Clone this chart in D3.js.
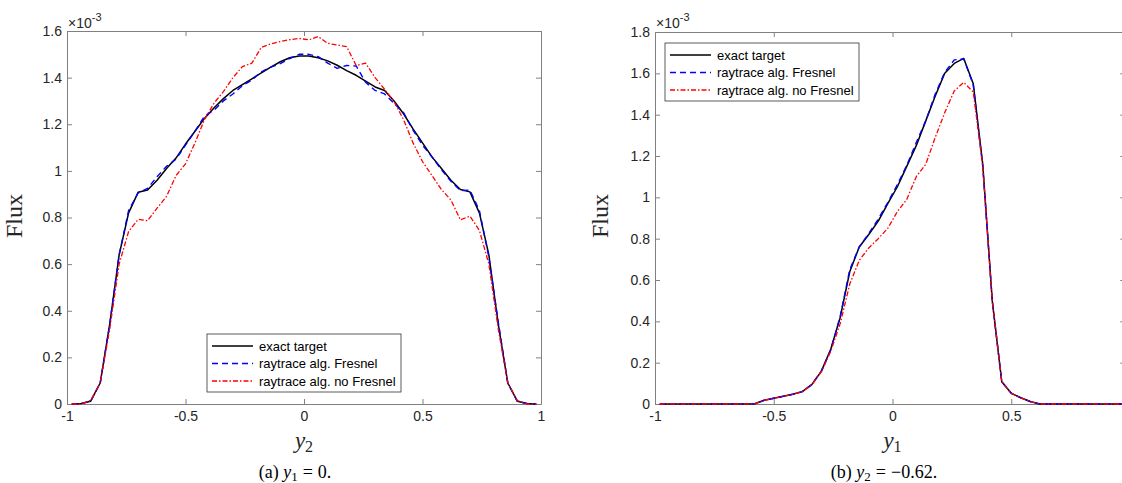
<!DOCTYPE html>
<html>
<head>
<meta charset="utf-8">
<script src="https://cdn.jsdelivr.net/npm/d3@7"></script>
<style>
  body { margin: 0; background: #fff; }
  svg { display: block; }
  .tick text { font-family: "Liberation Sans", Arial, sans-serif; font-size: 14px; fill: #262626; }
  .tick line, .domain { stroke: #808080; }
</style>
</head>
<body>
<script>
// sample positions (shared by both panels)
var gridPos = [-0.98, -0.94, -0.90, -0.86, -0.82, -0.78, -0.74, -0.70, -0.66, -0.62,
               -0.58, -0.54, -0.50, -0.46, -0.42, -0.38, -0.34, -0.30, -0.26, -0.22,
               -0.18, -0.14, -0.10, -0.06, -0.02, 0.02, 0.06, 0.10, 0.14, 0.18,
               0.22, 0.26, 0.30, 0.34, 0.38, 0.42, 0.46, 0.50, 0.54, 0.58,
               0.62, 0.66, 0.70, 0.74, 0.78, 0.82, 0.86, 0.90, 0.94, 0.98];

// (a) y1 = 0, flux in units of 1e-3
var exactA = [0, 0.002, 0.012, 0.09, 0.34, 0.64, 0.82, 0.908, 0.918, 0.96,
              1.01, 1.055, 1.115, 1.17, 1.225, 1.27, 1.31, 1.345, 1.37, 1.395,
              1.42, 1.445, 1.468, 1.485, 1.493, 1.493, 1.485, 1.472, 1.453, 1.43,
              1.41, 1.385, 1.36, 1.345, 1.30, 1.245, 1.18, 1.12, 1.06, 1.01,
              0.96, 0.92, 0.91, 0.82, 0.64, 0.34, 0.09, 0.012, 0.002, 0];
var fresnelA = [0, 0.002, 0.012, 0.09, 0.34, 0.64, 0.83, 0.905, 0.925, 0.975,
                1.02, 1.05, 1.11, 1.17, 1.235, 1.26, 1.30, 1.33, 1.365, 1.39,
                1.425, 1.445, 1.46, 1.482, 1.50, 1.50, 1.49, 1.462, 1.44, 1.452,
                1.45, 1.38, 1.345, 1.33, 1.29, 1.25, 1.175, 1.11, 1.06, 1.005,
                0.955, 0.915, 0.918, 0.83, 0.63, 0.35, 0.09, 0.012, 0.002, 0];
var noFresnelA = [0, 0, 0.015, 0.09, 0.32, 0.60, 0.74, 0.792, 0.786, 0.84,
                  0.89, 0.98, 1.03, 1.12, 1.22, 1.29, 1.34, 1.40, 1.447, 1.462,
                  1.53, 1.545, 1.555, 1.563, 1.568, 1.562, 1.576, 1.547, 1.54, 1.533,
                  1.452, 1.462, 1.40, 1.35, 1.297, 1.22, 1.12, 1.04, 0.98, 0.92,
                  0.875, 0.79, 0.806, 0.745, 0.60, 0.32, 0.09, 0.015, 0, 0];

// (b) y2 = -0.62
var exactB = [0, 0, 0, 0, 0, 0, 0, 0, 0, 0,
              0.001, 0.018, 0.028, 0.037, 0.047, 0.06, 0.094, 0.158, 0.265, 0.42,
              0.64, 0.76, 0.82, 0.885, 0.97, 1.05, 1.15, 1.25, 1.37, 1.49,
              1.60, 1.648, 1.672, 1.55, 1.16, 0.50, 0.108, 0.052, 0.03, 0.012,
              0, 0, 0, 0, 0, 0, 0, 0, 0, 0];
var fresnelB = [0, 0, 0, 0, 0, 0, 0, 0, 0, 0,
                0.001, 0.018, 0.028, 0.037, 0.047, 0.06, 0.094, 0.158, 0.262, 0.425,
                0.65, 0.76, 0.825, 0.895, 0.975, 1.06, 1.155, 1.265, 1.37, 1.50,
                1.605, 1.665, 1.67, 1.545, 1.15, 0.50, 0.108, 0.052, 0.03, 0.012,
                0, 0, 0, 0, 0, 0, 0, 0, 0, 0];
var noFresnelB = [0, 0, 0, 0, 0, 0, 0, 0, 0, 0,
                  0.001, 0.018, 0.028, 0.037, 0.047, 0.06, 0.092, 0.155, 0.255, 0.39,
                  0.58, 0.695, 0.755, 0.80, 0.85, 0.93, 0.99, 1.10, 1.16, 1.29,
                  1.41, 1.515, 1.556, 1.51, 1.15, 0.50, 0.108, 0.052, 0.03, 0.012,
                  0, 0, 0, 0, 0, 0, 0, 0, 0, 0];

var seriesNames = ["exact target", "raytrace alg. Fresnel", "raytrace alg. no Fresnel"];
var xTicksA = [-1, -0.5, 0, 0.5, 1];
var yTicksA = [0, 0.2, 0.4, 0.6, 0.8, 1, 1.2, 1.4, 1.6];
var xTicksB = [-1, -0.5, 0, 0.5];
var yTicksB = [0, 0.2, 0.4, 0.6, 0.8, 1, 1.2, 1.4, 1.6, 1.8];

var styles = [
  {color: "#000000", dash: null, width: 1.5},
  {color: "#0000ff", dash: "6,4", width: 1.4},
  {color: "#ff0000", dash: "5,2,1.5,2", width: 1.3}
];

var svg = d3.select("body").append("svg")
    .attr("width", 1122)
    .attr("height", 483);

var fmt = function(d) { return String(+d.toFixed(2)); };

function drawPanel(p) {
  var x = d3.scaleLinear().domain(p.xDomain).range([p.left, p.right]);
  var y = d3.scaleLinear().domain(p.yDomain).range([p.bottom, p.top]);
  var g = svg.append("g");

  g.append("g").attr("transform", "translate(0," + p.bottom + ")")
    .call(d3.axisBottom(x).tickValues(p.xTicks).tickFormat(fmt).tickSize(-5).tickSizeOuter(0).tickPadding(7));
  g.append("g").attr("transform", "translate(0," + p.top + ")")
    .call(d3.axisTop(x).tickValues(p.xTicks).tickFormat("").tickSize(-5).tickSizeOuter(0));
  g.append("g").attr("transform", "translate(" + p.left + ",0)")
    .call(d3.axisLeft(y).tickValues(p.yTicks).tickFormat(fmt).tickSize(-5).tickSizeOuter(0).tickPadding(5));
  g.append("g").attr("transform", "translate(" + p.right + ",0)")
    .call(d3.axisRight(y).tickValues(p.yTicks).tickFormat("").tickSize(-5).tickSizeOuter(0));

  var line = d3.line()
      .x(function(d, i) { return x(gridPos[i]); })
      .y(function(d) { return y(d); });

  p.series.forEach(function(s, k) {
    g.append("path")
      .datum(s)
      .attr("fill", "none")
      .attr("stroke", styles[k].color)
      .attr("stroke-width", styles[k].width)
      .attr("stroke-dasharray", styles[k].dash)
      .attr("stroke-linejoin", "round")
      .attr("d", line);
  });

  // exponent
  var ex = g.append("text")
    .attr("x", p.left + 1).attr("y", 28)
    .attr("font-family", "Liberation Sans, Arial, sans-serif")
    .attr("font-size", 14).attr("fill", "#262626");
  ex.append("tspan").text("\u00d710");
  ex.append("tspan").attr("font-size", 11).attr("dy", -7).text("-3");

  // y label
  g.append("text")
    .attr("transform", "translate(" + p.ylabX + ",216) rotate(-90)")
    .attr("text-anchor", "middle")
    .attr("font-family", "Liberation Serif, serif")
    .attr("font-size", 24).attr("fill", "#262626")
    .text("Flux");

  // x label
  var xl = g.append("text")
    .attr("x", x(0)).attr("y", 448)
    .attr("text-anchor", "middle")
    .attr("font-family", "Liberation Serif, serif")
    .attr("fill", "#262626");
  xl.append("tspan").attr("font-style", "italic").attr("font-size", 23).text("y");
  xl.append("tspan").attr("font-size", 16).attr("dy", 4).text(p.xSub);

  // caption
  var cap = g.append("text")
    .attr("x", p.capX).attr("y", 478)
    .attr("text-anchor", "middle")
    .attr("font-family", "Liberation Serif, serif")
    .attr("font-size", 18).attr("fill", "#000");
  cap.append("tspan").text(p.capPre + " ");
  cap.append("tspan").attr("font-style", "italic").text("y");
  cap.append("tspan").attr("font-size", 13).attr("dy", 3).text(p.capSub);
  cap.append("tspan").attr("dy", -3).attr("dx", 5).text("=");
  cap.append("tspan").attr("dx", 5).text(p.capVal);

  // legend
  var lg = g.append("g").attr("transform", "translate(" + p.leg[0] + "," + p.leg[1] + ")");
  lg.append("rect").attr("width", 194).attr("height", 58)
    .attr("fill", "#fff").attr("stroke", "#333").attr("stroke-width", 0.8);
  seriesNames.forEach(function(name, k) {
    var yy = 12 + k * 17.5;
    lg.append("line").attr("x1", 5).attr("x2", 46).attr("y1", yy).attr("y2", yy)
      .attr("stroke", styles[k].color).attr("stroke-width", styles[k].width)
      .attr("stroke-dasharray", styles[k].dash);
    lg.append("text").attr("x", 52).attr("y", yy + 4.5)
      .attr("font-family", "Liberation Sans, Arial, sans-serif")
      .attr("font-size", 13).attr("fill", "#000").text(name);
  });
}

drawPanel({
  left: 67, right: 541, top: 31, bottom: 404,
  xDomain: [-1, 1], yDomain: [0, 1.6],
  xTicks: xTicksA, yTicks: yTicksA,
  series: [exactA, fresnelA, noFresnelA],
  ylabX: 22, xSub: "2",
  capX: 295, capPre: "(a)", capSub: "1", capVal: "0.",
  leg: [207, 334]
});

drawPanel({
  left: 655, right: 1125.25, top: 32, bottom: 404,
  xDomain: [-1, 0.98], yDomain: [0, 1.8],
  xTicks: xTicksB, yTicks: yTicksB,
  series: [exactB, fresnelB, noFresnelB],
  ylabX: 608, xSub: "1",
  capX: 884, capPre: "(b)", capSub: "2", capVal: "\u22120.62.",
  leg: [665, 43]
});
</script>
</body>
</html>
